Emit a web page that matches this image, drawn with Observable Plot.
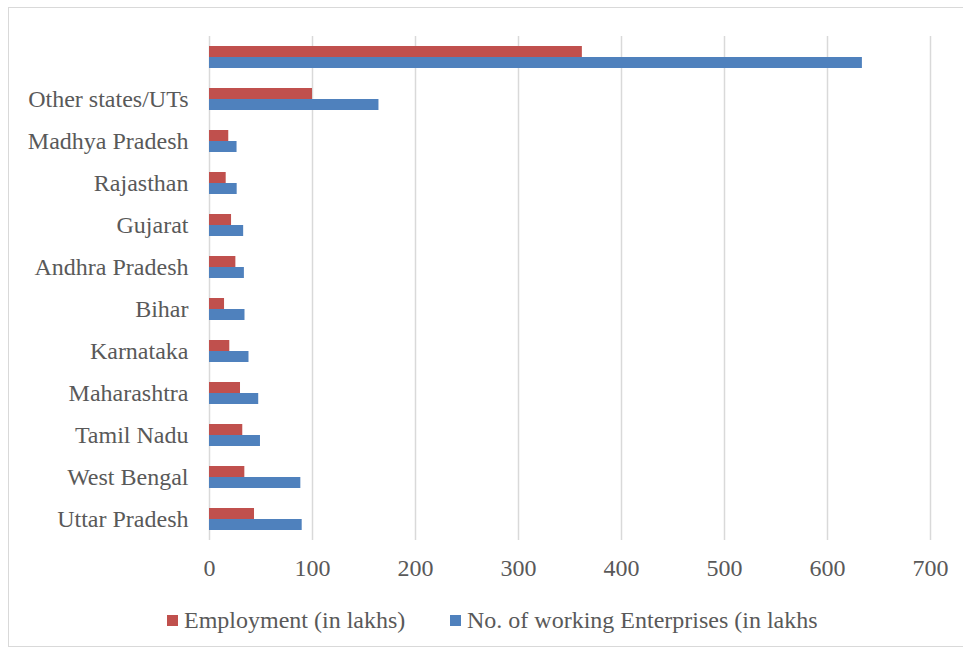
<!DOCTYPE html>
<html>
<head>
<meta charset="utf-8">
<script src="https://cdn.jsdelivr.net/npm/d3@7"></script>
<script src="https://cdn.jsdelivr.net/npm/@observablehq/plot@0.6"></script>
<style>
  html, body { margin: 0; padding: 0; background: #fff; }
  body { width: 963px; height: 652px; position: relative; overflow: hidden; font-family: "Liberation Serif", "Times New Roman", serif; }
  #frame { position: absolute; left: 8px; top: 7px; width: 960px; height: 640px; border: 1px solid #d9d9d9; box-sizing: border-box; }
  #chart { position: absolute; left: 0; top: 0; }
  #legend { position: absolute; top: 605px; left: 0; width: 963px; height: 30px; font-size: 24px; color: #595959; }
  .item { position: absolute; top: 0; display: flex; align-items: center; height: 30px; }
  .sw { width: 11px; height: 11px; margin-right: 6px; }
</style>
</head>
<body>
<div id="frame"></div>
<div id="chart"></div>
<div id="legend"></div>
<script>
// Categories, bottom to top as drawn
const states = ["Uttar Pradesh", "West Bengal", "Tamil Nadu", "Maharashtra", "Karnataka", "Bihar",
  "Andhra Pradesh", "Gujarat", "Rajasthan", "Madhya Pradesh", "Other states/UTs", ""];
const employment = [43.7, 34.3, 32.3, 30.1, 19.7, 14.6, 25.6, 21.4, 16.2, 18.7, 100, 362];
const enterprises = [89.99, 88.67, 49.48, 47.78, 38.34, 34.46, 33.87, 33.16, 26.87, 26.74, 164.52, 633.88];
const seriesNames = ["Employment (in lakhs)", "No. of working Enterprises (in lakhs"];
const seriesColors = ["#C0504D", "#4F81BD"];
const xTicks = [0, 100, 200, 300, 400, 500, 600, 700];

const empData = states.map((s, i) => ({state: s, value: employment[i]}));
const entData = states.map((s, i) => ({state: s, value: enterprises[i]}));

const chart = Plot.plot({
  width: 963,
  height: 590,
  marginLeft: 209,
  marginRight: 33,
  marginTop: 36,
  marginBottom: 50,
  style: {fontFamily: "'Liberation Serif', 'Times New Roman', serif", fontSize: "24px", color: "#595959", background: "transparent"},
  x: {domain: [0, 700], ticks: xTicks, label: null},
  y: {domain: states.slice().reverse(), paddingInner: 0.476, paddingOuter: 0.238, label: null},
  marks: [
    Plot.gridX(xTicks, {stroke: "#d9d9d9", strokeOpacity: 1, strokeWidth: 1.5}),
    Plot.barX(empData, {y: "state", x: "value", fill: seriesColors[0], insetBottom: 11}),
    Plot.barX(entData, {y: "state", x: "value", fill: seriesColors[1], insetTop: 11}),
    Plot.axisX(xTicks, {tickSize: 0, tickPadding: 18, fill: "#595959", label: null}),
    Plot.axisY({tickSize: 0, tickPadding: 21, fill: "#595959", label: null})
  ]
});
document.getElementById("chart").appendChild(chart);

const legend = document.getElementById("legend");
const lefts = [167, 450];
seriesNames.forEach((name, i) => {
  const it = document.createElement("div");
  it.className = "item";
  it.style.left = lefts[i] + "px";
  const sw = document.createElement("span");
  sw.className = "sw";
  sw.style.background = seriesColors[i];
  const tx = document.createElement("span");
  tx.textContent = name;
  it.appendChild(sw);
  it.appendChild(tx);
  legend.appendChild(it);
});
</script>
</body>
</html>
